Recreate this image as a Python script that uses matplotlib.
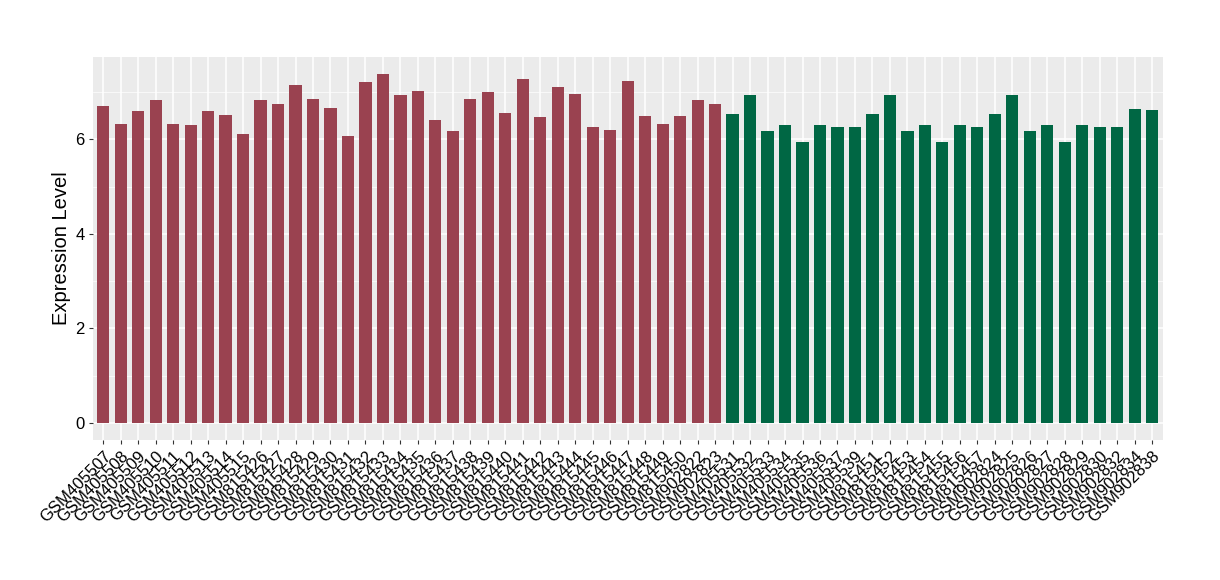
import matplotlib
matplotlib.use("Agg")
import matplotlib.pyplot as plt
import numpy as np

plt.rcParams['font.family'] = ['Liberation Sans', 'DejaVu Sans']

# samples, grouped
group1 = ['GSM405507', 'GSM405508', 'GSM405509', 'GSM405510', 'GSM405511',
          'GSM405512', 'GSM405513', 'GSM405514', 'GSM405515',
          'GSM815426', 'GSM815427', 'GSM815428', 'GSM815429', 'GSM815430',
          'GSM815431', 'GSM815432', 'GSM815433', 'GSM815434', 'GSM815435',
          'GSM815436', 'GSM815437', 'GSM815438', 'GSM815439', 'GSM815440',
          'GSM815441', 'GSM815442', 'GSM815443', 'GSM815444', 'GSM815445',
          'GSM815446', 'GSM815447', 'GSM815448', 'GSM815449', 'GSM815450',
          'GSM902822', 'GSM902823']
values1 = [6.71, 6.32, 6.60, 6.83, 6.32, 6.30, 6.60, 6.51, 6.11,
           6.83, 6.75, 7.16, 6.85, 6.66, 6.07, 7.21, 7.38, 6.94, 7.02,
           6.41, 6.18, 6.85, 7.00, 6.56, 7.28, 6.47, 7.11, 6.96, 6.26,
           6.20, 7.23, 6.49, 6.32, 6.49, 6.83, 6.75]

group2 = ['GSM405531', 'GSM405532', 'GSM405533', 'GSM405534', 'GSM405535',
          'GSM405536', 'GSM405537', 'GSM405539',
          'GSM815451', 'GSM815452', 'GSM815453', 'GSM815454', 'GSM815455',
          'GSM815456', 'GSM815457',
          'GSM902824', 'GSM902825', 'GSM902826', 'GSM902827', 'GSM902828',
          'GSM902829', 'GSM902830', 'GSM902832', 'GSM902834', 'GSM902838']
values2 = [6.54, 6.94, 6.18, 6.30, 5.94, 6.30, 6.26, 6.26,
           6.54, 6.94, 6.18, 6.30, 5.94, 6.30, 6.26,
           6.54, 6.94, 6.18, 6.30, 5.94, 6.30, 6.26, 6.26, 6.64, 6.62]

color1 = '#9A4250'
color2 = '#006744'

labels = group1 + group2
vals = values1 + values2
cols = [color1] * len(group1) + [color2] * len(group2)
x = np.arange(len(labels))

fig = plt.figure(figsize=(12.2, 5.8), dpi=100)
ax = fig.add_axes([0.076, 0.241, 0.877, 0.661])
ax.set_facecolor('#EBEBEB')

ax.bar(x, vals, width=0.7, color=cols, zorder=3)

ax.set_xlim(-0.6, len(labels) - 0.4)
ax.set_ylim(-0.369, 7.75)
ax.set_yticks([0, 2, 4, 6])
ax.set_yticks([1, 3, 5, 7], minor=True)
ax.set_xticks(x)
ax.set_xticklabels(labels, rotation=45, ha='right', rotation_mode='anchor',
                   fontsize=12)
ax.tick_params(axis='y', labelsize=12, length=3, color='#333333', pad=3)
ax.tick_params(axis='y', which='minor', length=0)
ax.tick_params(axis='x', length=3, color='#333333', pad=3)

ax.grid(True, which='major', color='white', linewidth=1.1, zorder=0)
ax.grid(True, which='minor', axis='y', color='white', linewidth=0.5, zorder=0)
for s in ax.spines.values():
    s.set_visible(False)

ax.set_ylabel('Expression Level', fontsize=14.5, labelpad=3)

fig.savefig('out.png', dpi=100)
